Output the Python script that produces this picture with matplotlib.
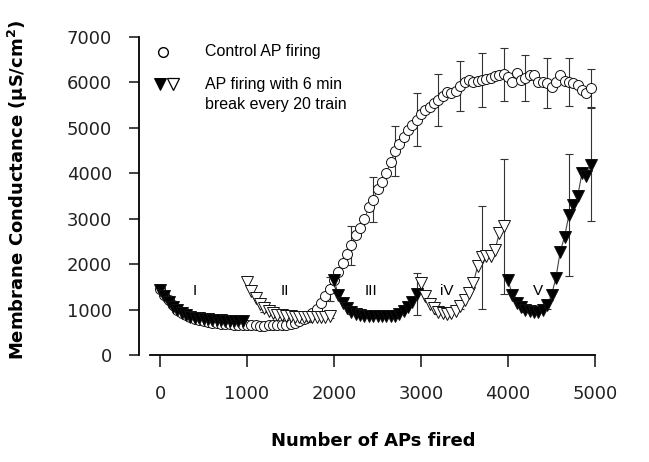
import matplotlib

matplotlib.use("Agg")
import matplotlib.pyplot as plt
import numpy as np

# Number of APs fired (one point every 50 APs)
aps = np.arange(0, 5000, 50)

# control AP firing (open circles)
control = [
    1450, 1330, 1200, 1090, 1000, 930, 870, 830, 800, 770,
    750, 730, 715, 700, 690, 680, 675, 670, 665, 660,
    655, 650, 650, 648, 648, 650, 652, 655, 660, 668,
    685, 710, 740, 790, 850, 920, 1020, 1150, 1300, 1450,
    1640, 1830, 2030, 2220, 2420, 2640, 2800, 3000, 3250, 3420,
    3650, 3800, 4000, 4250, 4480, 4650, 4800, 4950, 5070, 5180,
    5300, 5400, 5450, 5550, 5620, 5700, 5780, 5760, 5820, 5930,
    6020, 6060, 6000, 6040, 6050, 6080, 6100, 6150, 6170, 6180,
    6130, 6000, 6200, 6060, 6100, 6170, 6170, 6000, 6000, 5990,
    5910, 6020, 6170, 6040, 6010, 5980, 5950, 5840, 5760, 5880,
]
# error bars on every 5th point (200, 450, ..., 4950)
control_err = [40, 40, 40, 40, 40, 50, 120, 270, 430, 500,
               550, 590, 570, 550, 590, 580, 510, 550, 520, 420]

# AP firing with 6 min break every 20 train: 5 blocks of 20 points
seg_names = ["I", "II", "III", "iV", "V"]
seg_filled = [True, False, True, False, True]
seg_vals = [
    [1440, 1300, 1170, 1060, 980, 920, 875, 845, 820, 805,
     795, 785, 775, 768, 762, 757, 752, 748, 744, 740],
    [1600, 1400, 1250, 1130, 1040, 970, 920, 890, 870, 860,
     850, 845, 840, 835, 832, 830, 830, 832, 840, 850],
    [1650, 1320, 1140, 1030, 955, 900, 875, 860, 855, 850,
     850, 850, 852, 855, 865, 900, 960, 1050, 1170, 1340],
    [1580, 1300, 1120, 1030, 950, 920, 910, 920, 960, 1070,
     1210, 1360, 1580, 1950, 2150, 2170, 2180, 2310, 2680, 2830],
    [1650, 1320, 1140, 1065, 990, 960, 950, 950, 980, 1100,
     1320, 1690, 2275, 2605, 3080, 3300, 3490, 4000, 3930, 4190],
]
seg_err = [
    [50, 40, 40, 40],
    [100, 50, 40, 40],
    [50, 40, 50, 460],
    [50, 60, 1130, 1480],
    [50, 80, 1350, 1250],
]
seg_label_x = [400, 1435, 2420, 3300, 4345]
seg_label_y = 1410

plt.rcParams["font.family"] = ["DejaVu Sans"]
fig = plt.figure(figsize=(6.49, 4.62), dpi=100)
ax = fig.add_axes([139 / 649, 107 / 462, 456 / 649, 318 / 462])

eb_kw = dict(fmt="none", ecolor="#333333", elinewidth=0.8, capsize=3.2,
             capthick=0.8, zorder=2, clip_on=False)

# control
control = np.array(control)
ax.plot(aps, control, color="#444444", lw=0.7, zorder=3, clip_on=False)
ax.errorbar(aps[4::5], control[4::5], yerr=control_err, **eb_kw)
ax.plot(aps, control, "o", ms=7.2, mfc="white", mec="#111111", mew=0.7,
        zorder=4, clip_on=False)

# blocks with breaks
for k, vals in enumerate(seg_vals):
    xs = aps[k * 20:(k + 1) * 20]
    vals = np.array(vals)
    ax.plot(xs, vals, color="#444444", lw=0.8, zorder=5, clip_on=False)
    ax.errorbar(xs[4::5], vals[4::5], yerr=seg_err[k], **eb_kw)
    face = "black" if seg_filled[k] else "white"
    ax.plot(xs, vals, "v", ms=8, mfc=face, mec="#111111", mew=0.7,
            zorder=6, clip_on=False)
    ax.text(seg_label_x[k], seg_label_y, seg_names[k], ha="center",
            va="center", fontsize=11, family="Liberation Sans")

# legend drawn by hand
ax.plot([0.0526], [0.953], "o", ms=7, mfc="white", mec="black", mew=1.0,
        transform=ax.transAxes, clip_on=False)
ax.plot([0.046], [0.852], "v", ms=8, mfc="black", mec="black", mew=0.7,
        transform=ax.transAxes, clip_on=False)
ax.plot([0.075], [0.852], "v", ms=8, mfc="white", mec="black", mew=0.9,
        transform=ax.transAxes, clip_on=False)
ax.text(0.1447, 0.953, "Control AP firing", transform=ax.transAxes,
        va="center", ha="left", fontsize=11.5, family="Liberation Sans")
ax.text(0.1447, 0.852, "AP firing with 6 min", transform=ax.transAxes,
        va="center", ha="left", fontsize=11.5, family="Liberation Sans")
ax.text(0.1447, 0.789, "break every 20 train", transform=ax.transAxes,
        va="center", ha="left", fontsize=11.5, family="Liberation Sans")

ax.set_xlim(-242, 5000)
ax.set_ylim(0, 7000)
ax.set_xticks(np.arange(0, 5001, 1000))
ax.set_yticks(np.arange(0, 7001, 1000))
ax.spines["top"].set_visible(False)
ax.spines["right"].set_visible(False)
ax.spines["bottom"].set_bounds(-115, 5000)
ax.spines["bottom"].set_linewidth(1.3)
ax.spines["left"].set_linewidth(1.3)
ax.tick_params(axis="x", direction="out", length=8.5, width=1.2, pad=13,
               labelsize=13, colors="#222222")
ax.tick_params(axis="y", direction="out", length=7.5, width=1.2, pad=12,
               labelsize=13, colors="#222222")

ax.set_xlabel("Number of APs fired", fontsize=13, fontweight="bold")
ax.xaxis.set_label_coords(0.513, -0.242)
ax.set_ylabel(r"Membrane Conductance (µS/cm$^{\mathbf{2}}$)", fontsize=13,
              fontweight="bold")
ax.yaxis.set_label_coords(-0.239, 0.52)

fig.savefig("out.png", dpi=100)
